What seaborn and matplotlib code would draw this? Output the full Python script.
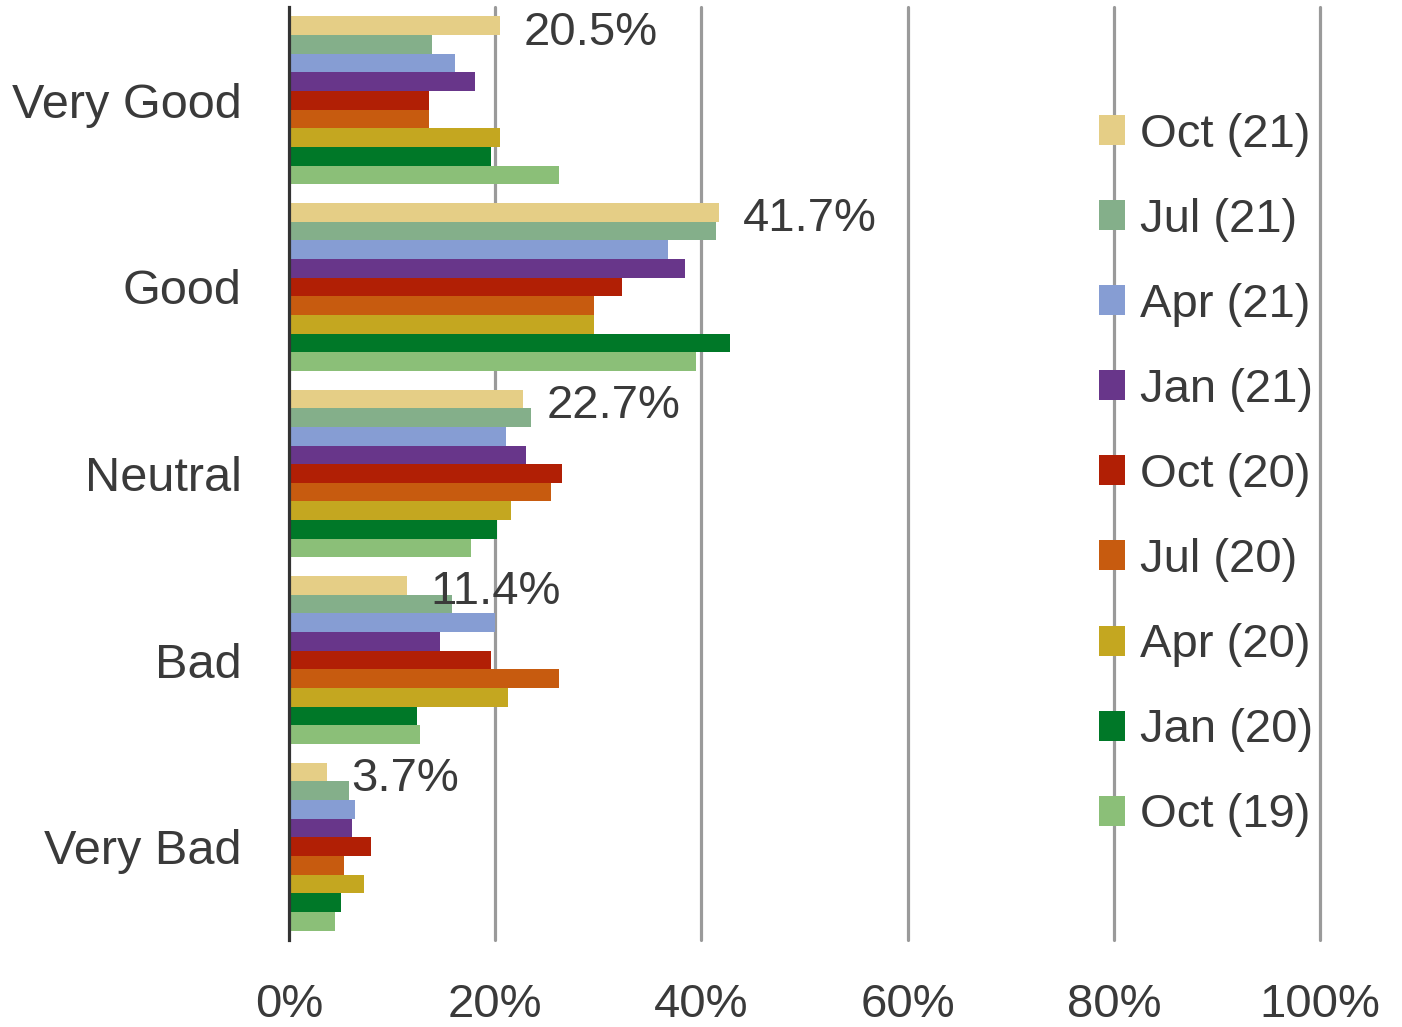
import matplotlib
matplotlib.use("Agg")
import matplotlib.pyplot as plt
import seaborn as sns
import pandas as pd

categories = ["Very Good", "Good", "Neutral", "Bad", "Very Bad"]
waves = ["Oct (21)", "Jul (21)", "Apr (21)", "Jan (21)", "Oct (20)",
         "Jul (20)", "Apr (20)", "Jan (20)", "Oct (19)"]

oct21 = [20.5, 41.7, 22.7, 11.4, 3.7]
jul21 = [13.9, 41.4, 23.5, 15.8, 5.8]
apr21 = [16.1, 36.8, 21.0, 20.0, 6.4]
jan21 = [18.0, 38.4, 23.0, 14.6, 6.1]
oct20 = [13.6, 32.3, 26.5, 19.6, 8.0]
jul20 = [13.6, 29.6, 25.4, 26.2, 5.3]
apr20 = [20.5, 29.6, 21.5, 21.2, 7.3]
jan20 = [19.6, 42.8, 20.2, 12.4, 5.0]
oct19 = [26.2, 39.5, 17.7, 12.7, 4.5]

series = [oct21, jul21, apr21, jan21, oct20, jul20, apr20, jan20, oct19]

colors = ["#E5CE86", "#84AF8A", "#869DD3", "#68368A", "#B11F05",
          "#C75B0F", "#C4A720", "#007828", "#8BBF78"]

xticks = [0, 20, 40, 60, 80, 100]
xtick_labels = ["0%", "20%", "40%", "60%", "80%", "100%"]

rows = []
for wave, vals in zip(waves, series):
    for cat, v in zip(categories, vals):
        rows.append({"category": cat, "wave": wave, "value": v})
df = pd.DataFrame(rows)

sns.set_theme(style="white")
plt.rcParams["font.family"] = ["Liberation Sans", "DejaVu Sans"]
text_color = "#3a3a3a"
fs = 34

fig = plt.figure(figsize=(14.02, 10.27), dpi=100)
ax = fig.add_axes([289 / 1402, 1 - 940 / 1027, (1320 - 289) / 1402, (940 - 7) / 1027])

sns.barplot(data=df, y="category", x="value", hue="wave",
            order=categories, hue_order=waves, palette=colors,
            orient="h", width=0.9, linewidth=0, saturation=1,
            ax=ax, zorder=3)

ax.set_xlim(0, 100)
ax.set_ylim(4.5, -0.5)
ax.set_xticks(xticks)
ax.set_xticklabels(xtick_labels)
ax.set_xlabel("")
ax.set_ylabel("")

for x in xticks[1:]:
    ax.axvline(x, color="#9a9a9a", linewidth=2.3, zorder=1, clip_on=False)

for side in ["top", "right", "bottom"]:
    ax.spines[side].set_visible(False)
ax.spines["left"].set_color("#333333")
ax.spines["left"].set_linewidth(2.3)
ax.spines["left"].set_zorder(5)

ax.tick_params(axis="x", length=0, pad=31, labelsize=fs, labelcolor=text_color)
ax.tick_params(axis="y", length=0, pad=34, labelsize=35, labelcolor=text_color)

# value labels on the latest wave
first = ax.containers[0]
for bar, v in zip(first, oct21):
    yc = bar.get_y() + bar.get_height() / 2
    ax.annotate(f"{v:.1f}%", xy=(bar.get_width(), yc), xytext=(17, -5),
                textcoords="offset points", ha="left", va="center",
                fontsize=fs, color=text_color, zorder=6)

leg = ax.legend(loc="center left", bbox_to_anchor=(1099 / 1402, 1 - 475 / 1027),
                bbox_transform=fig.transFigure, frameon=False,
                fontsize=fs, labelcolor=text_color,
                handlelength=0.55, handleheight=0.6, handletextpad=0.32,
                labelspacing=0.87, borderpad=0, borderaxespad=0)

fig.savefig("out.png", dpi=100)
